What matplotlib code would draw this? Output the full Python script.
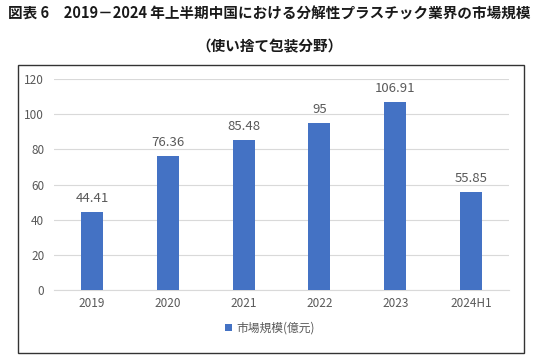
import matplotlib
matplotlib.use("Agg")
import matplotlib.pyplot as plt
from matplotlib.patches import Rectangle

plt.rcParams['font.family'] = ['Noto Sans CJK JP', 'DejaVu Sans']

categories = ["2019", "2020", "2021", "2022", "2023", "2024H1"]
values = [44.41, 76.36, 85.48, 95, 106.91, 55.85]
value_labels = ["44.41", "76.36", "85.48", "95", "106.91", "55.85"]
yticks = [0, 20, 40, 60, 80, 100, 120]
series_name = "市場規模(億元)"
title1 = "図表 6　2019－2024 年上半期中国における分解性プラスチック業界の市場規模"
title2 = "（使い捨て包装分野）"

W, H = 538, 357
fig = plt.figure(figsize=(W/100, H/100), dpi=100)
fig.patch.set_facecolor("white")

# chart frame
fig.patches.append(Rectangle((17.5/W, 1 - 353/H), (524-17.5)/W, (353-65)/H,
                             transform=fig.transFigure, fill=False,
                             edgecolor="#333333", linewidth=1.0))

ax = fig.add_axes([54/W, 1 - 290/H, (509-54)/W, (290-79)/H])
x = list(range(len(categories)))
bars = ax.bar(x, values, width=0.29, color="#4472C4", zorder=3)
for xi, v, lab in zip(x, values, value_labels):
    ax.text(xi, v + 4, lab, ha="center", va="bottom", fontsize=9.5, color="#595959")

ax.set_xlim(-0.5, len(categories) - 0.5)
ax.set_ylim(0, 120)
ax.set_yticks(yticks)
ax.set_xticks(x)
ax.set_xticklabels(categories)
ax.tick_params(axis="both", length=0, labelsize=8.5, colors="#595959")
ax.tick_params(axis="y", pad=7)
ax.tick_params(axis="x", pad=5)
ax.grid(axis="y", color="#D9D9D9", linewidth=0.8, zorder=0)
for s in ["top", "right", "left"]:
    ax.spines[s].set_visible(False)
ax.spines["bottom"].set_color("#D9D9D9")
ax.spines["bottom"].set_linewidth(0.8)

leg = fig.legend([bars], [series_name], loc="center", bbox_to_anchor=(270/W, 1 - 328/H),
                 frameon=False, fontsize=8.5, handlelength=0.6, handleheight=0.6,
                 handletextpad=0.4, labelcolor="#595959")

fig.text(269/W, 1 - 14/H, title1, ha="center", va="center", fontsize=10.5,
         fontweight="bold", color="#1a1a1a")
fig.text(269/W, 1 - 46/H, title2, ha="center", va="center", fontsize=10.5,
         fontweight="bold", color="#1a1a1a")

fig.savefig("out.png", dpi=100, facecolor="white")
